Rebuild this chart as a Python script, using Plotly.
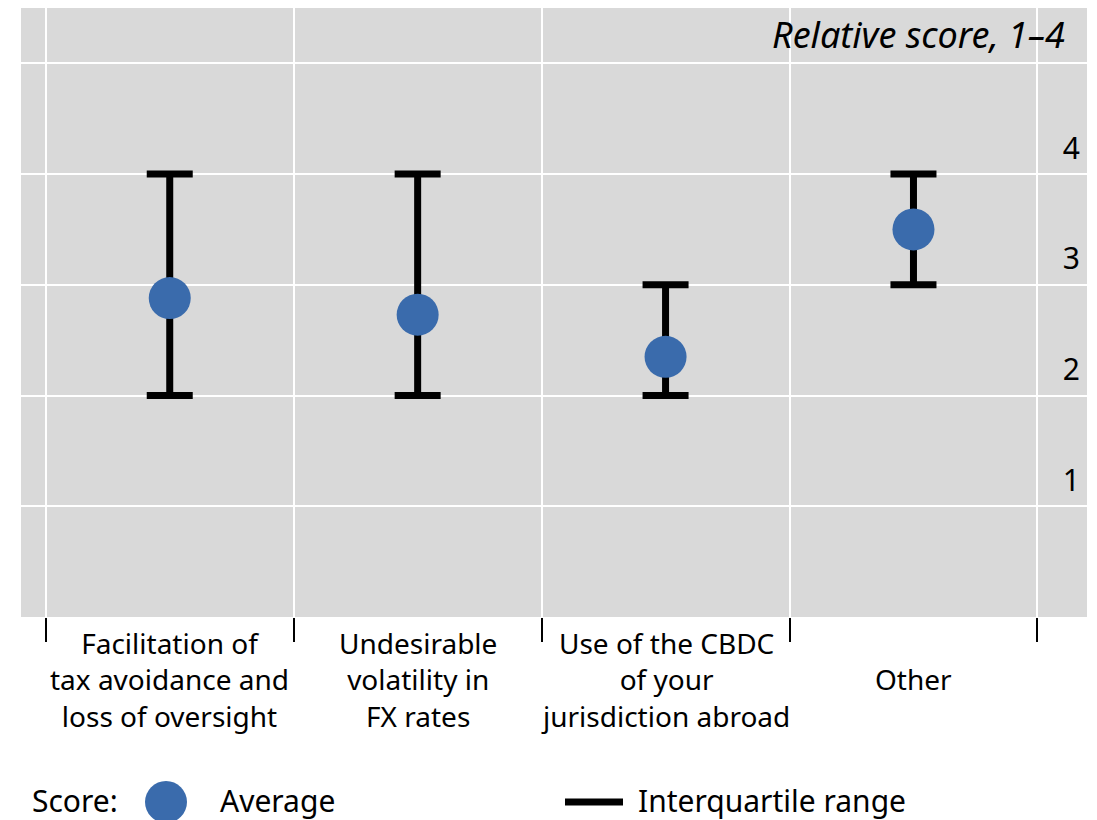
import plotly.graph_objects as go

categories = [
    "Facilitation of<br>tax avoidance and<br>loss of oversight",
    "Undesirable<br>volatility in<br>FX rates",
    "Use of the CBDC<br>of your<br>jurisdiction abroad",
    "Other",
]
average = [2.88, 2.73, 2.35, 3.5]
q1 = [2, 2, 2, 3]
q3 = [4, 4, 3, 4]
y_tickvals = [0, 1, 2, 3, 4, 5]
y_ticktext = ["", "1", "2", "3", "4", ""]

# page has an 8px body margin; figure coordinates = screen coordinates - 8
OFF = 8
W, H = 1089, 812
ML, MR, MT, MB = 13, 10, 0, 203
PW = W - ML - MR
PH = H - MT - MB

FONT = "Noto Sans"
BLUE = "#3A6BAC"

def px_x(p):  # p is screen pixel
    return (p - OFF - ML) / PW

def px_y(p):
    return (H - MB - (p - OFF)) / PH

xs = list(range(len(categories)))

fig = go.Figure()
fig.add_trace(go.Scatter(
    x=xs, y=average, mode="markers",
    marker=dict(size=42, color=BLUE),
    error_y=dict(type="data", symmetric=False,
                 array=[b - a for a, b in zip(average, q3)],
                 arrayminus=[a - b for a, b in zip(average, q1)],
                 thickness=7, width=23, color="black"),
    showlegend=False, hoverinfo="skip",
))

annotations = []
for i, c in enumerate(categories):
    annotations.append(dict(
        x=i, y=0, xref="x", yref="paper", yshift=-62,
        text=c, showarrow=False, xanchor="center", yanchor="middle",
        font=dict(family=FONT, size=28, color="black"), align="center",
    ))

annotations.append(dict(
    x=px_x(1067), y=px_y(35), xref="paper", yref="paper",
    text="<i>Relative score, 1–4</i>", showarrow=False,
    xanchor="right", yanchor="middle",
    font=dict(family=FONT, size=36, color="black"),
))

legend_y = px_y(800)
annotations += [
    dict(x=px_x(30), y=legend_y, xref="paper", yref="paper", text="Score:",
         showarrow=False, xanchor="left", yanchor="middle",
         font=dict(family=FONT, size=30, color="black")),
    dict(x=px_x(218), y=legend_y, xref="paper", yref="paper", text="Average",
         showarrow=False, xanchor="left", yanchor="middle",
         font=dict(family=FONT, size=30, color="black")),
    dict(x=px_x(636), y=legend_y, xref="paper", yref="paper", text="Interquartile range",
         showarrow=False, xanchor="left", yanchor="middle",
         font=dict(family=FONT, size=30, color="black")),
]

shapes = [
    dict(type="circle", xref="paper", yref="paper",
         xsizemode="pixel", ysizemode="pixel",
         xanchor=px_x(166), yanchor=px_y(802),
         x0=-21, x1=21, y0=-21, y1=21,
         fillcolor=BLUE, line=dict(width=0)),
    dict(type="line", xref="paper", yref="paper",
         x0=px_x(565), x1=px_x(623), y0=px_y(802), y1=px_y(802),
         line=dict(color="black", width=7)),
]

fig.update_layout(
    width=W, height=H,
    margin=dict(l=ML, r=MR, t=MT, b=MB),
    paper_bgcolor="white", plot_bgcolor="#D9D9D9",
    font=dict(family=FONT, color="black"),
    annotations=annotations, shapes=shapes,
    xaxis=dict(
        range=[-0.6, 3.7],
        tickvals=[-0.5, 0.5, 1.5, 2.5, 3.5],
        ticktext=["", "", "", "", ""],
        ticks="outside", ticklen=24, tickwidth=2, tickcolor="black",
        showgrid=True, gridcolor="white", gridwidth=2,
        zeroline=False, showline=False,
    ),
    yaxis=dict(
        range=[0, 5.5], side="right",
        tickvals=y_tickvals, ticktext=y_ticktext,
        ticklabelposition="inside top", ticklabelstandoff=4, ticklabelshift=-5,
        tickfont=dict(family=FONT, size=30, color="black"),
        showgrid=True, gridcolor="white", gridwidth=2,
        zeroline=False, showline=False, ticks="",
    ),
)

fig.write_html("out.html")
